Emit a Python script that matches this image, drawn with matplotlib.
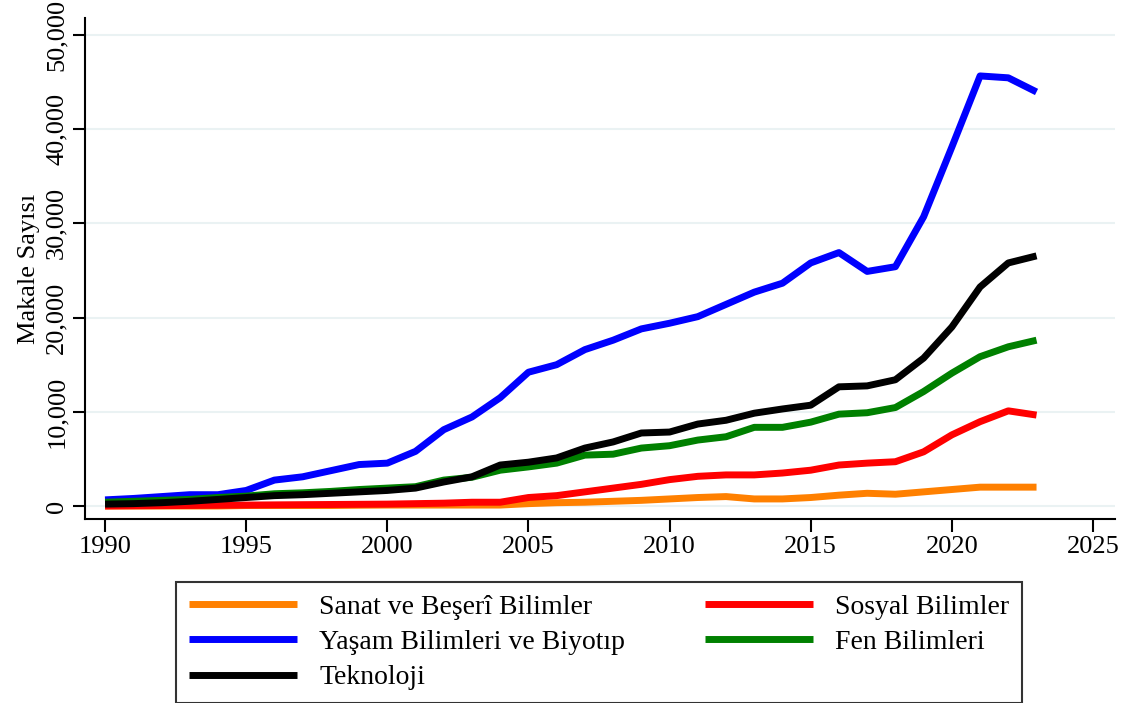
import matplotlib.pyplot as plt
import numpy as np

plt.rcParams['font.family'] = ['Liberation Serif', 'DejaVu Serif']

years = list(range(1990, 2024))

sanat = [0, 0, 0, 0, 0, 50, 50, 50, 50, 80, 100, 100, 100, 100, 100,
         250, 350, 400, 500, 600, 750, 900, 1000, 750, 750, 900, 1150,
         1350, 1250, 1500, 1750, 2000, 2000, 2000]
sosyal = [0, 20, 40, 60, 80, 100, 120, 140, 160, 180, 200, 250, 300, 400, 400,
          900, 1100, 1500, 1900, 2300, 2800, 3150, 3300, 3300, 3500, 3800,
          4350, 4550, 4700, 5750, 7550, 8950, 10100, 9650]
yasam = [650, 800, 1000, 1200, 1200, 1650, 2750, 3100, 3750, 4400, 4550,
         5800, 8100, 9450, 11500, 14200, 15000, 16600, 17600, 18800, 19400,
         20100, 21400, 22700, 23650, 25800, 26900, 24900, 25400, 30700,
         38100, 45650, 45450, 43950]
fen = [400, 500, 600, 700, 900, 1050, 1300, 1400, 1550, 1750, 1900, 2050,
       2750, 3050, 3800, 4150, 4550, 5400, 5500, 6150, 6400, 7000, 7350,
       8350, 8350, 8900, 9750, 9900, 10450, 12150, 14100, 15850, 16900, 17600]
teknoloji = [200, 250, 350, 500, 700, 900, 1100, 1200, 1350, 1500, 1650,
             1900, 2550, 3100, 4350, 4650, 5100, 6150, 6800, 7750, 7850, 8700,
             9100, 9850, 10300, 10700, 12650, 12750, 13400, 15700, 19000,
             23250, 25800, 26550]

series = [
    ("Sanat ve Beşerî Bilimler", sanat, "#FF8000"),
    ("Sosyal Bilimler", sosyal, "#FF0000"),
    ("Yaşam Bilimleri ve Biyotıp", yasam, "#0000FF"),
    ("Fen Bilimleri", fen, "#008000"),
    ("Teknoloji", teknoloji, "#000000"),
]

fig = plt.figure(figsize=(11.37, 7.03), dpi=100)
ax = fig.add_axes([85 / 1137, 1 - 519 / 703, 1030 / 1137, 501 / 703])

lines = []
for label, vals, col in series:
    ln, = ax.plot(years, vals, color=col, lw=5, label=label, solid_capstyle='butt')
    lines.append(ln)

ax.set_xlim(1989.29, 2025.78)
ax.set_ylim(-1380, 51800)
ax.set_xticks(np.arange(1990, 2026, 5))
ax.set_yticks(np.arange(0, 50001, 10000))
ax.set_yticklabels([f"{v:,}" for v in range(0, 50001, 10000)], rotation=90, va='center')
ax.grid(axis='y', color='#EAF2F3', lw=1.5)
ax.set_axisbelow(True)
for s in ['top', 'right']:
    ax.spines[s].set_visible(False)
for s in ['left', 'bottom']:
    ax.spines[s].set_linewidth(1.5)
ax.tick_params(length=9, width=1.5, labelsize=19, direction='out')
ax.set_ylabel("Makale Sayısı", fontsize=19, labelpad=4)

# legend is filled row by row in the original: reorder for column-first fill
order = [0, 2, 4, 1, 3]
leg = ax.legend([lines[i] for i in order], [series[i][0] for i in order],
                loc='upper left', bbox_to_anchor=(176 / 1137, 1 - 698 / 703, 846 / 1137, 116 / 703),
                bbox_transform=fig.transFigure, ncol=2, mode='expand', fontsize=20,
                frameon=True, fancybox=False, edgecolor='black', handlelength=3.9,
                handletextpad=0.8, labelspacing=0.35, borderaxespad=0, borderpad=0.45)
leg.get_frame().set_linewidth(1.5)

fig.savefig("out.png", dpi=100)
